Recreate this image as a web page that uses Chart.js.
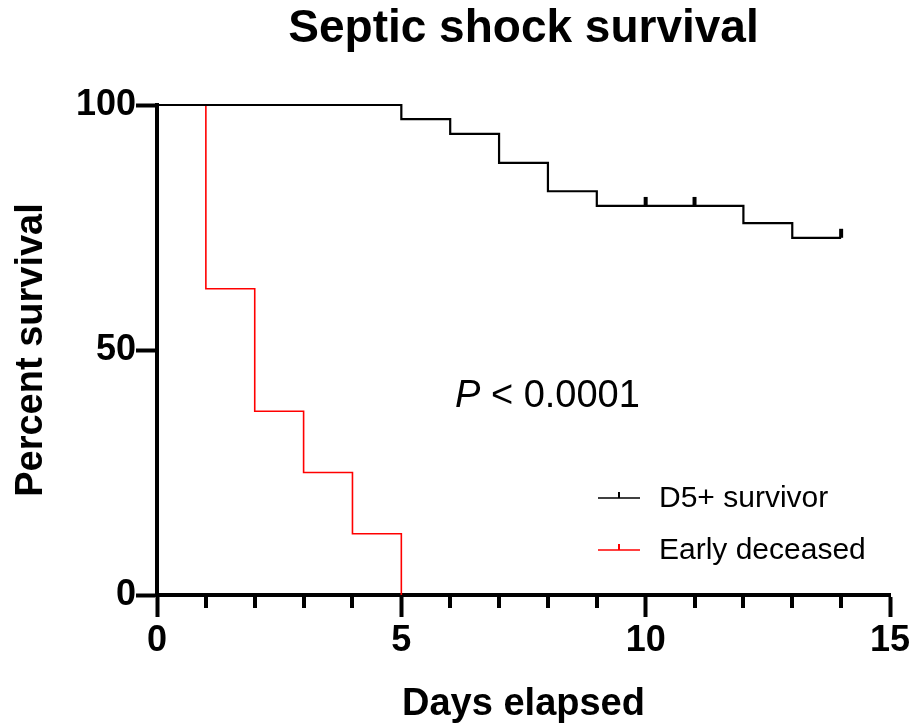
<!DOCTYPE html>
<html>
<head>
<meta charset="utf-8">
<title>Septic shock survival</title>
<script src="https://cdn.jsdelivr.net/npm/chart.js@4.4.1/dist/chart.umd.min.js"></script>
<style>
  html, body { margin: 0; padding: 0; background: #fff; }
  #wrap { width: 917px; height: 728px; }
</style>
</head>
<body>
<div id="wrap"><canvas id="kmChart" width="917" height="728"></canvas></div>
<script>
(function () {
  'use strict';

  // --- Data ---
  const seriesNames = ['D5+ survivor', 'Early deceased'];
  const seriesColors = ['#000000', '#ff0000'];

  const survivorDays = [0, 5, 6, 7, 8, 9, 12, 13, 14];
  const survivorPct = [100, 97.1, 94.1, 88.2, 82.4, 79.4, 75.9, 72.9, 72.9];
  const survivorCensoredDays = [10, 11, 14];

  const earlyDays = [0, 1, 2, 3, 4, 5];
  const earlyPct = [100, 62.5, 37.5, 25, 12.5, 0];

  const xTickValues = [0, 5, 10, 15];
  const xMinorStep = 1;
  const yTickValues = [0, 50, 100];

  const pValueText = ['P', ' < 0.0001'];

  const FONT = "'Liberation Sans', Arial, Helvetica, sans-serif";
  Chart.defaults.font.family = FONT;
  Chart.defaults.color = '#000';

  function toPoints(xs, ys) {
    return xs.map(function (x, i) { return { x: x, y: ys[i] }; });
  }

  // survival value of a step curve at a given day
  function stepValueAt(xs, ys, day) {
    let v = ys[0];
    for (let i = 0; i < xs.length; i++) {
      if (xs[i] <= day) v = ys[i];
    }
    return v;
  }

  // --- Extras: minor ticks, censor marks, P value, legend ---
  const kmExtras = {
    id: 'kmExtras',
    afterDraw: function (chart) {
      const ctx = chart.ctx;
      const xs = chart.scales.x;
      const ys = chart.scales.y;
      const area = chart.chartArea;
      ctx.save();

      // minor x ticks
      ctx.strokeStyle = '#000';
      ctx.lineWidth = 4;
      for (let v = xs.min; v <= xs.max; v += xMinorStep) {
        if (xTickValues.indexOf(v) !== -1) continue;
        const px = Math.round(xs.getPixelForValue(v));
        ctx.beginPath();
        ctx.moveTo(px, area.bottom);
        ctx.lineTo(px, area.bottom + 13);
        ctx.stroke();
      }

      // censored marks on survivor curve
      ctx.lineWidth = 4;
      survivorCensoredDays.forEach(function (d) {
        const px = xs.getPixelForValue(d);
        const py = ys.getPixelForValue(stepValueAt(survivorDays, survivorPct, d));
        ctx.beginPath();
        ctx.moveTo(px, py);
        ctx.lineTo(px, py - 9);
        ctx.stroke();
      });

      // P value annotation
      ctx.fillStyle = '#000';
      ctx.textBaseline = 'alphabetic';
      ctx.textAlign = 'left';
      ctx.font = 'italic 38px ' + FONT;
      const pX = 455, pY = 407;
      ctx.fillText(pValueText[0], pX, pY);
      const w = ctx.measureText(pValueText[0]).width;
      ctx.font = '38px ' + FONT;
      ctx.fillText(pValueText[1], pX + w, pY);

      // legend
      const legX = 598, legY = [498, 550], sampleW = 42;
      ctx.font = '30px ' + FONT;
      ctx.textBaseline = 'middle';
      seriesNames.forEach(function (name, i) {
        ctx.strokeStyle = seriesColors[i];
        ctx.lineWidth = 1.6;
        ctx.beginPath();
        ctx.moveTo(legX, legY[i]);
        ctx.lineTo(legX + sampleW, legY[i]);
        ctx.stroke();
        ctx.lineWidth = 2;
        ctx.beginPath();
        ctx.moveTo(legX + sampleW / 2, legY[i]);
        ctx.lineTo(legX + sampleW / 2, legY[i] - 6);
        ctx.stroke();
        ctx.fillStyle = '#000';
        ctx.fillText(name, legX + sampleW + 19, legY[i] + 1);
      });

      ctx.restore();
    }
  };

  const ctx = document.getElementById('kmChart');

  new Chart(ctx, {
    type: 'line',
    data: {
      datasets: [
        {
          label: seriesNames[0],
          data: toPoints(survivorDays, survivorPct),
          borderColor: seriesColors[0],
          borderWidth: 2.2,
          stepped: true,
          pointRadius: 0,
          fill: false,
          clip: false
        },
        {
          label: seriesNames[1],
          data: toPoints(earlyDays, earlyPct),
          borderColor: seriesColors[1],
          borderWidth: 1.6,
          stepped: true,
          pointRadius: 0,
          fill: false,
          clip: false
        }
      ]
    },
    options: {
      responsive: false,
      animation: false,
      devicePixelRatio: 1,
      layout: { padding: { left: 0, right: 27, top: 0, bottom: 0 } },
      plugins: {
        legend: { display: false },
        tooltip: { enabled: false },
        title: {
          display: true,
          fullSize: false,
          text: 'Septic shock survival',
          color: '#000',
          font: { size: 46, weight: 'bold', lineHeight: 1 },
          padding: { top: 6, bottom: 53 }
        }
      },
      scales: {
        x: {
          type: 'linear',
          min: 0,
          max: 15,
          afterBuildTicks: function (s) { s.ticks = xTickValues.map(function (v) { return { value: v }; }); },
          afterFit: function (s) { s.height = 133; },
          ticks: {
            color: '#000',
            font: { size: 36, weight: 'bold', lineHeight: 1 },
            padding: 6,
            maxRotation: 0,
            autoSkip: false
          },
          grid: { drawOnChartArea: false, drawTicks: true, tickLength: 22, tickWidth: 4, tickColor: '#000' },
          border: { color: '#000', width: 4 },
          title: {
            display: true,
            text: 'Days elapsed',
            color: '#000',
            font: { size: 38, weight: 'bold', lineHeight: 1 },
            padding: { top: 0, bottom: 4 }
          }
        },
        y: {
          type: 'linear',
          min: 0,
          max: 100,
          afterBuildTicks: function (s) { s.ticks = yTickValues.map(function (v) { return { value: v }; }); },
          afterFit: function (s) { s.width = 157; },
          ticks: {
            color: '#000',
            font: { size: 36, weight: 'bold', lineHeight: 1 },
            padding: 0
          },
          grid: { drawOnChartArea: false, drawTicks: true, tickLength: 21, tickWidth: 4, tickColor: '#000' },
          border: { color: '#000', width: 4 },
          title: {
            display: true,
            text: 'Percent survival',
            color: '#000',
            font: { size: 38, weight: 'bold', lineHeight: 1 },
            padding: { top: 13, bottom: 0 }
          }
        }
      }
    },
    plugins: [kmExtras]
  });
})();
</script>
</body>
</html>
